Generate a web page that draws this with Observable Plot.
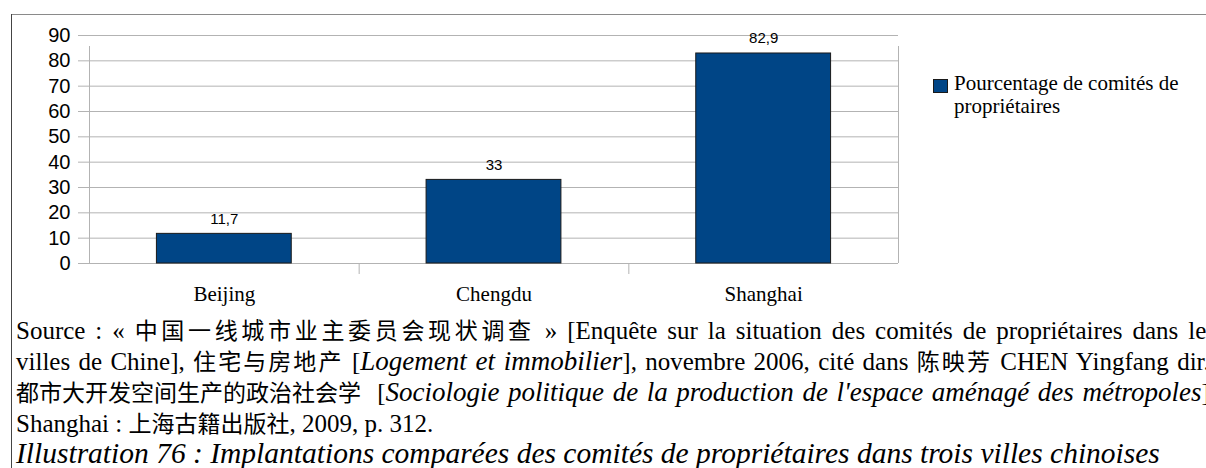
<!DOCTYPE html>
<html>
<head>
<meta charset="utf-8">
<script src="https://cdn.jsdelivr.net/npm/d3@7"></script>
<script src="https://cdn.jsdelivr.net/npm/@observablehq/plot@0.6"></script>
<style>
  html, body { margin: 0; padding: 0; background: #fff; }
  body { width: 1206px; height: 468px; overflow: hidden; position: relative; }
  #wrap { position: relative; width: 1206px; }
  #chart svg { display: block; }
  .frame-top { position: absolute; left: 11px; top: 14px; width: 1300px; height: 1px; background: #8a8a8a; }
  .frame-left { position: absolute; left: 11px; top: 14px; width: 1px; height: 600px; background: #444; }
  #legend { position: absolute; left: 933px; top: 72px; font-family: "Liberation Serif", serif; font-size: 21px; line-height: 23px; color: #000; }
  #legend .sw { position: absolute; left: 0; top: 7px; width: 13px; height: 12px; background: #004586; border: 1px solid #1a1a1a; }
  #legend .tx { position: absolute; left: 21px; top: 0; white-space: nowrap; }
  #caption { margin-left: 16px; width: 1200px; padding-top: 5px; font-family: "Liberation Serif", "Noto Sans CJK SC", serif; font-size: 25px; line-height: 31px; color: #000; }
  #caption .j { text-align: justify; text-align-last: justify; white-space: nowrap; }
  #caption .l { text-align: left; white-space: nowrap; }
  #caption .c { font-family: "Noto Sans CJK SC", sans-serif; font-size: 23px; line-height: 23px; }
  #caption .ib { display: inline-block; }
  #caption i { font-size: 27px; }
  #caption .big { font-size: 29.5px; line-height: 29px; font-style: italic; }
</style>
</head>
<body>
<div id="wrap">
  <div id="chart"></div>
  <div id="legend"><span class="sw"></span><span class="tx"></span></div>
  <div id="caption"></div>
  <div class="frame-top"></div>
  <div class="frame-left"></div>
</div>
<script>
const cities = ["Beijing", "Chengdu", "Shanghai"];
const values = [11.7, 33, 82.9];
const valueLabels = ["11,7", "33", "82,9"];
const yTicks = [0, 10, 20, 30, 40, 50, 60, 70, 80, 90];
const seriesName = ["Pourcentage de comités de", "propriétaires"];
const captionLines = [
  {cls: "j", html: "Source : « <span class=\"c\">中国一线城市业主委员会现状调查</span> » [Enquête sur la situation des comités de propriétaires dans les"},
  {cls: "j", html: "villes de Chine], <span class=\"c\">住宅与房地产</span> [<i>Logement et immobilier</i>], novembre 2006, cité dans <span class=\"c\">陈映芳</span> CHEN Yingfang dir.,"},
  {cls: "j", html: "<span class=\"c ib\">都市大开发空间生产的政治社会学</span>&nbsp; [<i>Sociologie politique de la production de l'espace aménagé des métropoles</i>],"},
  {cls: "l", html: "Shanghai : <span class=\"c\">上海古籍出版社</span>, 2009, p. 312."},
  {cls: "l big", html: "Illustration 76 : Implantations comparées des comités de propriétaires dans trois villes chinoises"}
];

const data = cities.map((c, i) => ({city: c, value: values[i], label: valueLabels[i]}));

const W = 1206, H = 310, mL = 89, mR = 308, mT = 35, mB = 47;
const step = (W - mL - mR) / cities.length;
const grid = "#b3b3b3";

const chart = Plot.plot({
  width: W, height: H,
  marginLeft: mL, marginRight: mR, marginTop: mT, marginBottom: mB,
  style: {fontFamily: "'Liberation Sans', Arial, sans-serif", background: "transparent", color: "#000", overflow: "visible"},
  x: {domain: cities, paddingInner: 0.5, paddingOuter: 0.25, round: false, label: null},
  y: {domain: [0, 90], label: null},
  marks: [
    Plot.ruleY(yTicks, {stroke: grid, strokeWidth: 1}),
    Plot.ruleX([cities[0]], {x: d => d, dx: -step / 2, y1: 0, y2: 90, insetBottom: -11, stroke: grid}),
    Plot.ruleX([cities[2]], {x: d => d, dx: step / 2, y1: 0, y2: 90, insetBottom: -11, stroke: grid}),
    Plot.ruleX(cities.slice(1), {x: d => d, dx: -step / 2, y1: 0, y2: 0, insetBottom: -11, stroke: grid}),
    Plot.axisY({ticks: yTicks, tickSize: 11, tickPadding: 8, fontSize: 20, stroke: grid, fill: "#000", label: null}),
    Plot.axisX({tickSize: 0, tickPadding: 23, fontSize: 21, fontFamily: "'Liberation Serif', serif", fill: "#000", label: null}),
    Plot.barY(data, {x: "city", y: "value", fill: "#004586", stroke: "#1a1a1a", strokeWidth: 1}),
    Plot.text(data, {x: "city", y: "value", text: "label", dy: -15, fontSize: 15, fill: "#000"})
  ]
});
document.getElementById("chart").appendChild(chart);

document.querySelector("#legend .tx").innerHTML = seriesName.join("<br>");

const cap = document.getElementById("caption");
for (const line of captionLines) {
  const d = document.createElement("div");
  d.className = line.cls;
  d.innerHTML = line.html;
  cap.appendChild(d);
}
</script>
</body>
</html>
